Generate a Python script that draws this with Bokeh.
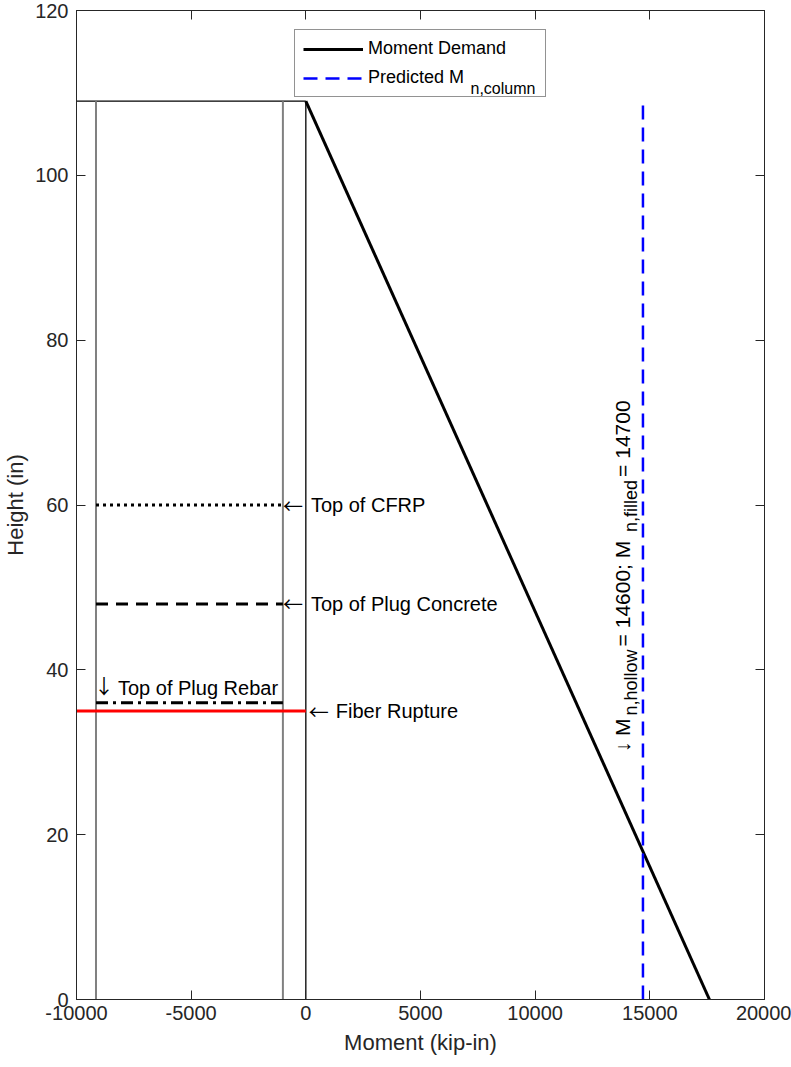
import math
from bokeh.plotting import figure
from bokeh.models import (LinearAxis, Range1d, FixedTicker, Legend, LegendItem,
                          CustomJSTickFormatter)
from bokeh.embed import file_html
from bokeh.resources import INLINE
from bokeh.core.properties import value

# ---------------- data ----------------
column_top = 109
demand_height = [0, 109]
demand_moment = [17600, 0]
mn_column = 14700
mn_hollow = 14600
mn_filled = 14700
shell_lines = [-9150, -1000]          # gray vertical lines (moment axis)
column_base_x = [-10000, 0]
cfrp_top = 60
plug_concrete_top = 48
plug_rebar_top = 36
fiber_rupture = 35
x_ticks = [-10000, -5000, 0, 5000, 10000, 15000, 20000]
x_tick_labels = ["-10000", "-5000", "0", "5000", "10000", "15000", "20000"]
y_ticks = [0, 20, 40, 60, 80, 100, 120]
y_tick_labels = ["0", "20", "40", "60", "80", "100", "120"]

FONT = "Liberation Sans"
ARROW_FONT = "Noto Sans CJK JP"
AXC = "#262626"

p = figure(frame_width=688, frame_height=989,
           x_range=Range1d(-10000, 20000), y_range=Range1d(0, 120),
           output_backend="svg", toolbar_location=None,
           min_border_left=75, min_border_top=10, min_border_right=27,
           min_border_bottom=55)
p.xgrid.visible = False
p.ygrid.visible = False
p.outline_line_color = AXC
p.background_fill_color = "white"
p.border_fill_color = "white"

def style_axis(ax, ticks, labels=None):
    ax.ticker = FixedTicker(ticks=ticks)
    ax.axis_line_color = AXC
    ax.axis_line_width = 1
    ax.major_tick_line_color = AXC
    ax.major_tick_in = 9
    ax.major_tick_out = 0
    ax.minor_tick_line_color = None
    ax.major_label_text_font = FONT
    ax.major_label_text_font_size = "20px"
    ax.major_label_text_color = AXC
    if labels is not None:
        ax.major_label_overrides = {t: l for t, l in zip(ticks, labels)}

xa = p.xaxis[0]
ya = p.yaxis[0]
style_axis(xa, x_ticks, x_tick_labels)
style_axis(ya, y_ticks, y_tick_labels)
xa.major_label_standoff = 6
ya.major_label_standoff = 8
xa.axis_label = "Moment (kip-in)"
ya.axis_label = "Height (in)"
for ax in (xa, ya):
    ax.axis_label_text_font = FONT
    ax.axis_label_text_font_size = "22px"
    ax.axis_label_text_font_style = "normal"
    ax.axis_label_text_color = AXC
xa.axis_label_standoff = 7
ya.axis_label_standoff = 4

blank = CustomJSTickFormatter(code="return ''")
ra = LinearAxis(formatter=blank)
style_axis(ra, y_ticks)
ra.major_label_standoff = 0
ta = LinearAxis(formatter=blank)
style_axis(ta, x_ticks)
ta.major_label_standoff = 0
p.add_layout(ra, "right")
p.add_layout(ta, "above")

# column outline
p.line(column_base_x, [column_top, column_top], line_color="black", line_width=1.3)
p.line([0, 0], [0, column_top], line_color="black", line_width=1.3)
for sx in shell_lines:
    p.line([sx, sx], [0, column_top], line_color="#808080", line_width=2)

# markers
p.line(shell_lines, [cfrp_top, cfrp_top], line_color="black", line_width=3, line_dash="3 4")
p.line(shell_lines, [plug_concrete_top, plug_concrete_top], line_color="black", line_width=3, line_dash="12 8")
p.line(shell_lines, [plug_rebar_top, plug_rebar_top], line_color="black", line_width=3, line_dash="12 5 3 5")
p.line(column_base_x, [fiber_rupture, fiber_rupture], line_color="#FF0000", line_width=3)

# demand & capacity
r1 = p.line(demand_moment, demand_height, line_color="black", line_width=3)
r2 = p.line([mn_column, mn_column], [0, column_top], line_color="#0000FF", line_width=2.5, line_dash="14 8")

# annotations
def txt(x, y, s, align="left", baseline="middle", xo=0, yo=0, size="20px", angle=0, font=FONT):
    p.text(x=[x], y=[y], text=[s], text_font=value(font), text_font_size=size,
           text_align=align, text_baseline=baseline, x_offset=xo, y_offset=yo,
           text_color="black", angle=angle)

txt(shell_lines[1], cfrp_top, "\u2190", font=ARROW_FONT, xo=0)
txt(shell_lines[1], cfrp_top, "Top of CFRP", xo=28)
txt(shell_lines[1], plug_concrete_top, "\u2190", font=ARROW_FONT, xo=0)
txt(shell_lines[1], plug_concrete_top, "Top of Plug Concrete", xo=28)
txt(shell_lines[0], plug_rebar_top, "\u2193", font=ARROW_FONT, baseline="bottom", xo=-2, yo=-3)
txt(shell_lines[0], plug_rebar_top, "Top of Plug Rebar", baseline="bottom", xo=22, yo=-4)
txt(0, fiber_rupture, "\u2190", font=ARROW_FONT, xo=3)
txt(0, fiber_rupture, "Fiber Rupture", xo=30)

# rotated label with subscripts
AW = {" ": 0.278, "\u2193": 0.5, "M": 0.833, "n": 0.556, ",": 0.278, "h": 0.556,
      "o": 0.556, "l": 0.222, "w": 0.722, "=": 0.584, ";": 0.278, "f": 0.278,
      "i": 0.222, "e": 0.556, "d": 0.556}
def tw(s, size):
    return sum(AW.get(c, 0.556) for c in s) * size

pieces = [("\u2193 M", 21, 0, 3),
          ("n,hollow", 18, 8, 3),
          (f" = {mn_hollow}; M", 21, 0, 3),
          ("n,filled", 18, 8, 3),
          (f" = {mn_filled}", 21, 0, 0)]
cum = 0
for s, sz, shift, gap in pieces:
    txt(mn_column, 30, s, baseline="alphabetic", xo=-20 + shift, yo=-cum,
        size=f"{sz}px", angle=math.pi / 2)
    cum += tw(s, sz) + gap

legend = Legend(items=[LegendItem(label="Moment Demand", renderers=[r1]),
                       LegendItem(label="Predicted M", renderers=[r2])],
                location="top_center", orientation="vertical", margin=19,
                padding=8, spacing=8, glyph_width=60, glyph_height=20,
                label_height=20, label_width=169, label_standoff=5,
                label_text_font=FONT, label_text_font_size="18px",
                label_text_color="black",
                border_line_color=AXC, border_line_width=1,
                background_fill_alpha=0)
p.add_layout(legend)
txt(5000, 120, "n,column", baseline="alphabetic", xo=50, yo=78, size="16px")

open("out.html", "w").write(file_html(p, INLINE))
